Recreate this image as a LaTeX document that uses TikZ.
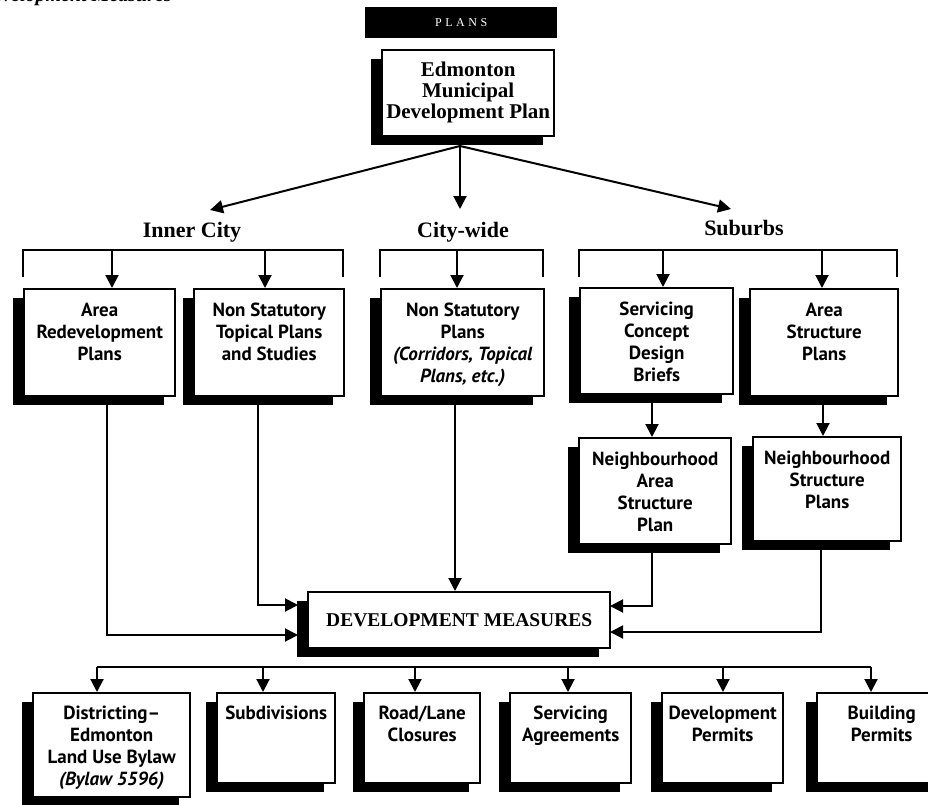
\documentclass[tikz,border=0pt]{standalone}
\usepackage{fontspec}
\setmainfont{Liberation Serif}
\newfontfamily\boxfont{PT Sans}
\newfontfamily\plansfont[LetterSpace=30]{Liberation Serif}
\usetikzlibrary{arrows.meta}
\tikzset{
  box/.style={draw, line width=2.4pt, fill=white, inner sep=0pt, anchor=north west},
  btxt/.style={font=\boxfont\bfseries\fontsize{19}{22}\selectfont, align=center, inner sep=0pt, anchor=north},
  etxt/.style={font=\bfseries\fontsize{21}{21}\selectfont, align=center, inner sep=0pt, anchor=north},
  head/.style={font=\bfseries\fontsize{22}{24}\selectfont, inner sep=0pt},
  conn/.style={line width=2pt},
  arr/.style={conn, -{Triangle[length=13pt,width=13pt]}},
}
\newcommand\shadowedbox[5]{%
  \fill[black] (#2-10,#3+10) rectangle (#4-10,#5+10);
  \node[box, minimum width={(#4-#2)*1pt}, minimum height={(#5-#3)*1pt}] (#1) at (#2,#3) {};
}
\begin{document}
\begin{tikzpicture}[x=1pt,y=-1pt]
\useasboundingbox[fill=white] (0,0) rectangle (928,804);

% cut-off title at the very top
\node[font=\bfseries\itshape\fontsize{20}{22}\selectfont, anchor=base east, inner sep=0pt] (cuttitle) at (172,1) {Development Measures};

% PLANS bar
\node[fill=black, minimum width=192pt, minimum height=31pt, anchor=north west, inner sep=0pt,
      text=white, font=\plansfont\fontsize{12}{14}\selectfont] (plans) at (365,7) {PLANS};

% Edmonton box
\shadowedbox{emdp}{381}{49}{553}{135}
\node[etxt] (emdpt) at ([yshift=-13pt]emdp.north) {Edmonton\\Municipal\\Development Plan};

% headings
\node[head] (ic) at (192,232) {Inner City};
\node[head] (cw) at (463,232) {City-wide};
\node[head] (sb) at (744,228) {Suburbs};

\coordinate (eo) at (460,146);
\coordinate (ictip) at (210,210);
\coordinate (cwtip) at (460,209);
\coordinate (sbtip) at (731,209);
\draw[arr] (eo) -- (ictip);
\draw[arr] (eo) -- (cwtip);
\draw[arr] (eo) -- (sbtip);

% row 1 boxes
\shadowedbox{arp}{23}{288}{174}{395}
\shadowedbox{nstp}{193}{288}{343}{395}
\shadowedbox{nsp}{380}{288}{543}{395}
\shadowedbox{scdb}{579}{287}{732}{393}
\shadowedbox{asp}{749}{288}{897}{395}
\node[btxt] at ([yshift=-15pt]arp.north) {Area\\Redevelopment\\Plans};
\node[btxt] at ([yshift=-15pt]nstp.north) {Non Statutory\\Topical Plans\\and Studies};
\node[btxt] at ([yshift=-15pt]nsp.north) {Non Statutory\\Plans\\\itshape(Corridors, Topical\\\itshape Plans, etc.)};
\node[btxt] at ([yshift=-15pt]scdb.north) {Servicing\\Concept\\Design\\Briefs};
\node[btxt] at ([yshift=-15pt]asp.north) {Area\\Structure\\Plans};

% row 2 boxes
\shadowedbox{nasp}{578}{437}{730}{543}
\shadowedbox{nsp2}{752}{436}{900}{540}
\node[btxt] at ([yshift=-15pt]nasp.north) {Neighbourhood\\Area\\Structure\\Plan};
\node[btxt] at ([yshift=-15pt]nsp2.north) {Neighbourhood\\Structure\\Plans};

% Development measures
\shadowedbox{dm}{307}{591}{609}{647}
\node[font=\bfseries\fontsize{19.5}{22}\selectfont, inner sep=0pt] (dmt) at (dm.center) {DEVELOPMENT MEASURES};

% bottom row
\shadowedbox{dist}{32}{692}{189}{796}
\shadowedbox{subd}{216}{692}{334}{782}
\shadowedbox{road}{363}{692}{479}{782}
\shadowedbox{sagr}{509}{692}{630}{782}
\shadowedbox{devp}{661}{692}{782}{782}
\shadowedbox{bldp}{816}{692}{945}{782}
\node[btxt] at ([yshift=-14pt]dist.north) {Districting–\\Edmonton\\Land Use Bylaw\\\itshape(Bylaw 5596)};
\node[btxt] at ([yshift=-14pt]subd.north) {Subdivisions};
\node[btxt] at ([yshift=-14pt]road.north) {Road/Lane\\Closures};
\node[btxt] at ([yshift=-14pt]sagr.north) {Servicing\\Agreements};
\node[btxt] at ([yshift=-14pt]devp.north) {Development\\Permits};
\node[btxt] at ([yshift=-14pt]bldp.north) {Building\\Permits};

% row 1 brackets
\draw[conn] (23,277) |- (343,250) -- (343,277);
\draw[conn] (380,277) |- (543,250) -- (543,277);
\draw[conn] (579,277) |- (897,250) -- (897,277);
\coordinate (a1) at (112,250);
\coordinate (a2) at (265,250);
\coordinate (a3) at (457,250);
\coordinate (a4) at (663,250);
\coordinate (a5) at (822,250);
\draw[arr] (a1) -- (a1 |- arp.north);
\draw[arr] (a2) -- (a2 |- nstp.north);
\draw[arr] (a3) -- (a3 |- nsp.north);
\draw[arr] (a4) -- (a4 |- scdb.north);
\draw[arr] (a5) -- (a5 |- asp.north);

% suburbs chain
\coordinate (ax4) at (652,0);
\coordinate (ax6) at (823,0);
\draw[arr] (scdb.south -| ax4) -- (nasp.north -| ax4);
\draw[arr] (asp.south -| ax6) -- (nsp2.north -| ax6);

% into development measures
\coordinate (ax1) at (107,0);
\coordinate (ax2) at (258,0);
\coordinate (ax3) at (455,0);
\coordinate (ax5) at (821,0);
\coordinate (dmin1) at (298,635);
\coordinate (dmin2) at (298,605);
\coordinate (dmin3) at (610,606);
\coordinate (dmin4) at (610,632);
\draw[arr] (arp.south -| ax1) |- (dmin1);
\draw[arr] (nstp.south -| ax2) |- (dmin2);
\draw[arr] (nsp.south -| ax3) -- (dm.north -| ax3);
\draw[arr] (nasp.south -| ax4) |- (dmin3);
\draw[arr] (nsp2.south -| ax5) |- (dmin4);

% bottom bracket
\coordinate (b1) at (97,667);
\coordinate (b2) at (263,667);
\coordinate (b3) at (415,667);
\coordinate (b4) at (568,667);
\coordinate (b5) at (723,667);
\coordinate (b6) at (871,667);
\draw[conn] (b1) -- (b6);
\draw[arr] (b1) -- (b1 |- dist.north);
\draw[arr] (b2) -- (b2 |- subd.north);
\draw[arr] (b3) -- (b3 |- road.north);
\draw[arr] (b4) -- (b4 |- sagr.north);
\draw[arr] (b5) -- (b5 |- devp.north);
\draw[arr] (b6) -- (b6 |- bldp.north);
\end{tikzpicture}
\end{document}
